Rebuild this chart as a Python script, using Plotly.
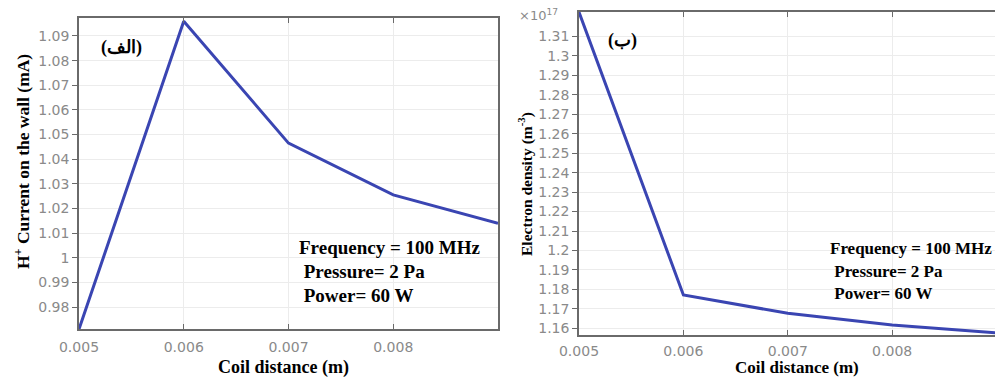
import plotly.graph_objects as go

# Coil distance (m) shared by both panels
coil_distance = [0.005, 0.006, 0.007, 0.008, 0.009]

# (a) H+ current on the wall (mA)
h_current = [0.971, 1.096, 1.0465, 1.0255, 1.0140]

# (b) Electron density (x1e17 m^-3)
electron_density = [1.3225, 1.1771, 1.1677, 1.1617, 1.1576]

x_tickvals = [0.005, 0.006, 0.007, 0.008]
x_ticktext = ["0.005", "0.006", "0.007", "0.008"]

left_tickvals = [0.98, 0.99, 1.00, 1.01, 1.02, 1.03, 1.04, 1.05, 1.06, 1.07, 1.08, 1.09]
left_ticktext = ["0.98", "0.99", "1", "1.01", "1.02", "1.03", "1.04", "1.05",
                 "1.06", "1.07", "1.08", "1.09"]

right_tickvals = [1.16, 1.17, 1.18, 1.19, 1.20, 1.21, 1.22, 1.23, 1.24, 1.25,
                  1.26, 1.27, 1.28, 1.29, 1.30, 1.31]
right_ticktext = ["1.16", "1.17", "1.18", "1.19", "1.2", "1.21", "1.22", "1.23",
                  "1.24", "1.25", "1.26", "1.27", "1.28", "1.29", "1.3", "1.31"]

W, H = 995, 377
def px(v):
    return v / W
def py(v):
    return 1 - v / H

LINE_COLOR = "#3a45b2"
AXIS_COLOR = "#6a6a6a"
GRID_COLOR = "#ececec"
TICK_FONT = dict(family="DejaVu Sans", size=14, color="#8a8a8a")
TITLE_FONT = "Liberation Serif"

fig = go.Figure()
fig.add_trace(go.Scatter(x=coil_distance, y=h_current, mode="lines",
                         line=dict(color=LINE_COLOR, width=3),
                         xaxis="x", yaxis="y", showlegend=False, cliponaxis=True))
fig.add_trace(go.Scatter(x=coil_distance, y=electron_density, mode="lines",
                         line=dict(color=LINE_COLOR, width=3),
                         xaxis="x2", yaxis="y2", showlegend=False, cliponaxis=True))

xcommon = dict(tickvals=x_tickvals, ticktext=x_ticktext, ticks="inside", ticklen=5,
               tickcolor=AXIS_COLOR, mirror="ticks", showline=True, linecolor=AXIS_COLOR,
               linewidth=1.5, showgrid=True, gridcolor=GRID_COLOR, zeroline=False,
               tickfont=TICK_FONT, automargin=False)
ycommon = dict(ticks="outside", ticklen=5, tickcolor=AXIS_COLOR, mirror=True,
               showline=True, linecolor=AXIS_COLOR, linewidth=1.5, showgrid=True,
               gridcolor=GRID_COLOR, zeroline=False, tickfont=TICK_FONT, automargin=False)
ymirror = dict(ticks="inside", ticklen=5, tickcolor=AXIS_COLOR, showticklabels=False,
               showgrid=False, showline=False, zeroline=False, side="right", automargin=False)

left_y_range = [0.97107, 1.0973]
right_y_range = [1.15655, 1.32255]

fig.update_layout(
    width=W, height=H,
    margin=dict(l=0, r=0, t=0, b=0, autoexpand=False),
    paper_bgcolor="white", plot_bgcolor="white",
    xaxis=dict(domain=[px(79), px(498)], range=[0.005, 0.009], anchor="y",
               ticklabelstandoff=4, **xcommon),
    yaxis=dict(domain=[py(329), py(18)], range=left_y_range, anchor="x",
               tickvals=left_tickvals, ticktext=left_ticktext, **ycommon),
    yaxis3=dict(overlaying="y", anchor="x", range=left_y_range,
                tickvals=left_tickvals, **ymirror),
    xaxis2=dict(domain=[px(579), 1.0], range=[0.005, 0.008985], anchor="y2",
                ticklabelstandoff=2, **xcommon),
    yaxis2=dict(domain=[py(335), py(12)], range=right_y_range, anchor="x2",
                tickvals=right_tickvals, ticktext=right_ticktext, **ycommon),
    yaxis4=dict(overlaying="y2", anchor="x2", range=right_y_range,
                tickvals=right_tickvals, **ymirror),
)

def note(text, x, y, size, xanchor="center", angle=0, color="black", bold=True, family=TITLE_FONT):
    fig.add_annotation(text=f"<b>{text}</b>" if bold else text, x=px(x), y=py(y),
                       xref="paper", yref="paper", showarrow=False, xanchor=xanchor,
                       yanchor="middle", textangle=angle,
                       font=dict(family=family, size=size, color=color))

# axis titles
note("H<sup>+</sup> Current on the wall (mA)", 22, 162, 17.5, angle=-90)
note("Coil distance (m)", 283, 367, 18)
note("Electron density (m<sup>-3</sup>)", 526, 184, 15.5, angle=-90)
note("Coil distance (m)", 797, 367, 17)
note("×10<sup>17</sup>", 538, 15, 13, color="#8a8a8a", bold=False, family="DejaVu Sans")

# panel labels
note("(الف)", 121, 48, 18)
note("(ب)", 622, 40, 18)

# operating conditions
for txt, yy in [("Frequency = 100 MHz", 247), ("&nbsp;Pressure= 2 Pa", 271), ("&nbsp;Power= 60 W", 295)]:
    note(txt, 297, yy, 19, xanchor="left")
for txt, yy in [("Frequency = 100 MHz", 248), ("&nbsp;Pressure= 2 Pa", 271), ("&nbsp;Power= 60 W", 293)]:
    note(txt, 828, yy, 17, xanchor="left")

fig.write_html("out.html")
